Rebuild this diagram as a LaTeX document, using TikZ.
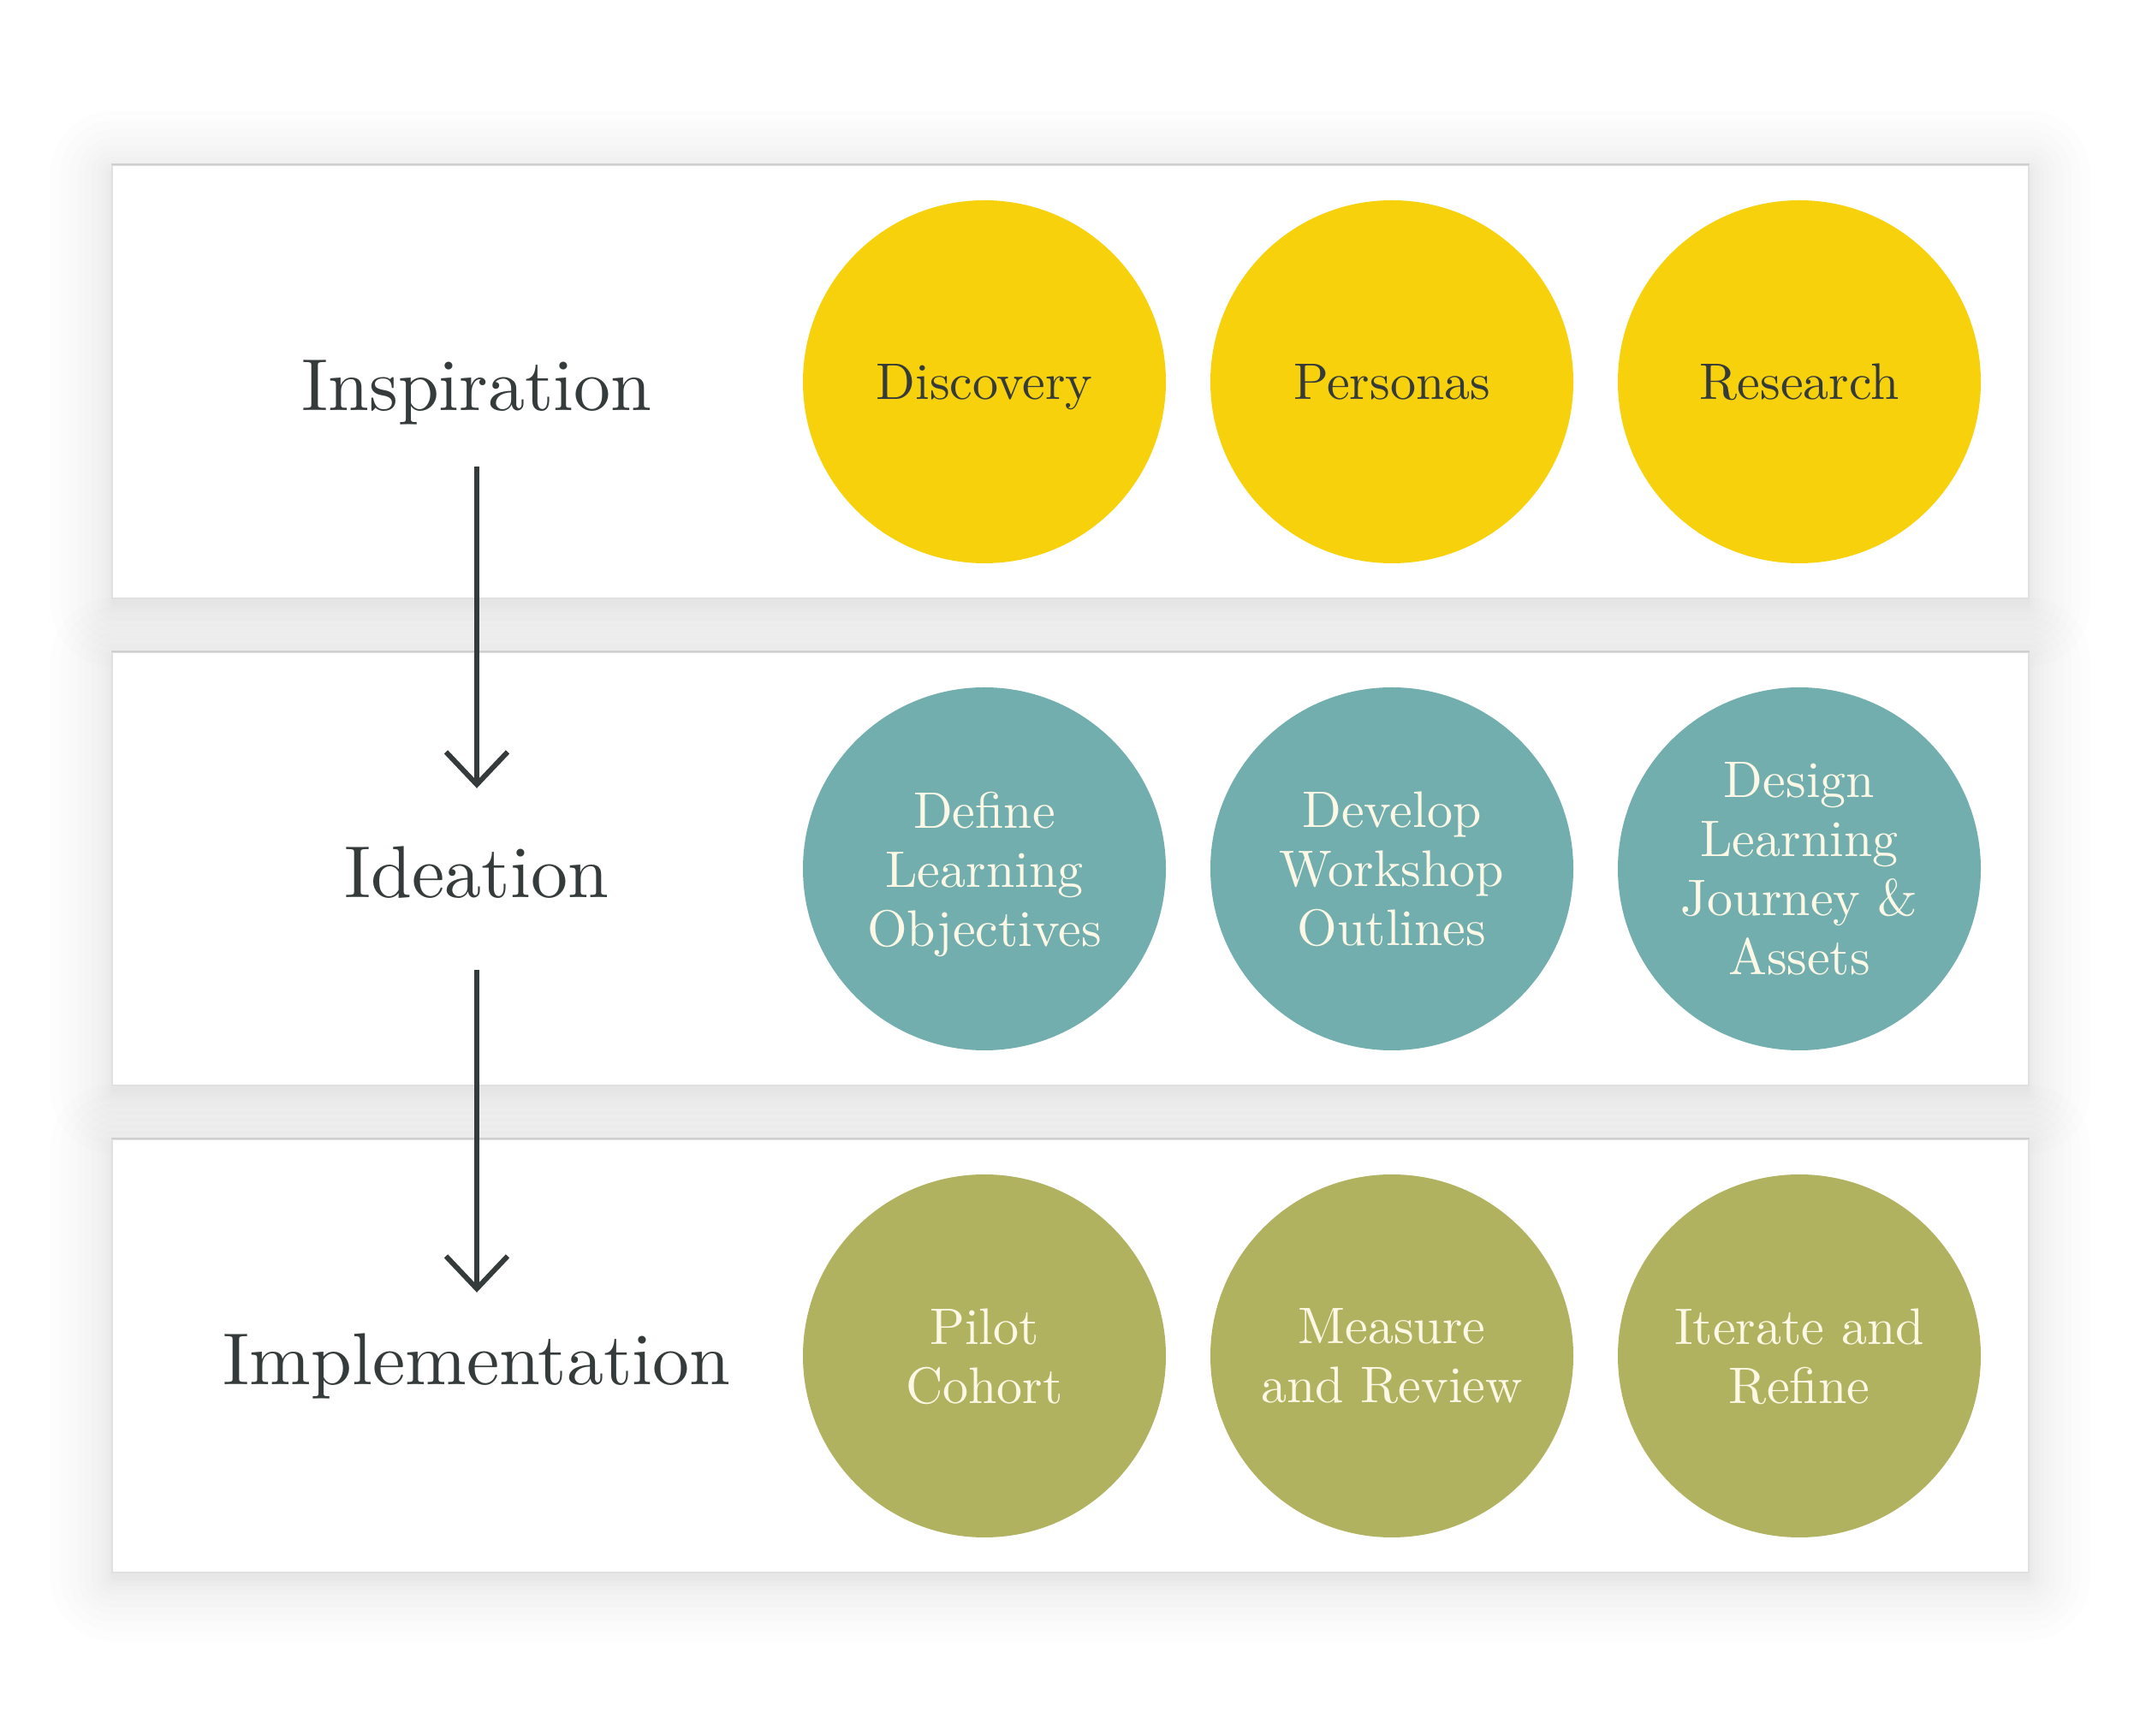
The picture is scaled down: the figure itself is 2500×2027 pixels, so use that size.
\documentclass[tikz,border=0pt]{standalone}
\usepackage{fontspec}
\setmainfont{lmroman10-regular.otf}
\usetikzlibrary{arrows.meta}

\definecolor{inkgrey}{HTML}{353B3B}
\definecolor{cream}{HTML}{FDF8E6}
\definecolor{sunyellow}{HTML}{F7D10C}
\definecolor{seateal}{HTML}{71AEAD}
\definecolor{olivegreen}{HTML}{B0B260}
\definecolor{edgegrey}{HTML}{E0E0E0}
\definecolor{topgrey}{HTML}{CFCFCF}

\begin{document}
\begin{tikzpicture}[x=1pt,y=1pt]
    \tikzset{
        panel/.style={
            rectangle, fill=white, draw=edgegrey, line width=1.5pt,
            minimum width=2239pt, minimum height=506pt, inner sep=0pt
        },
        phase/.style={
            anchor=base, text=inkgrey, inner sep=0pt,
            text height=60pt, text depth=17pt,
            font=\fontsize{86}{100}\selectfont
        },
        stepcircle/.style={
            circle, fill=#1, minimum size=424pt, inner sep=0pt,
            align=center, text depth=-10pt,
            font=\fontsize{60}{69}\selectfont
        },
        flow/.style={
            draw=inkgrey, line width=6pt,
            -{Straight Barb[length=38pt,width=72pt,sharp]}
        }
    }

    \fill[white] (0,0) rectangle (2500,2027);
    \useasboundingbox (0,0) rectangle (2500,2027);

    \coordinate (l1) at (557,1581);
    \coordinate (l2) at ([yshift=-569pt] l1);
    \coordinate (l3) at ([yshift=-569pt] l2);

    \foreach \row in {l1,l2,l3} {
        \foreach \s in {1,...,12} {
            \fill[black, opacity=0.006, rounded corners=\s*\s*0.5pt+2pt]
                ([shift={(-426-\s*\s*0.5,-261-\s*\s*0.5)}] \row) rectangle
                ([shift={(1813+\s*\s*0.5,245+\s*\s*0.5)}] \row);
        }
    }

    \node[panel] (p1) at ([xshift=693.5pt] l1) {};
    \node[panel] (p2) at ([xshift=693.5pt] l2) {};
    \node[panel] (p3) at ([xshift=693.5pt] l3) {};
    \draw[topgrey, line width=2pt] (p1.north west) -- (p1.north east);
    \draw[topgrey, line width=2pt] (p2.north west) -- (p2.north east);
    \draw[topgrey, line width=2pt] (p3.north west) -- (p3.north east);

    \node[phase] (insp) at ([yshift=-34pt] l1) {Inspiration};
    \node[phase] (idea) at ([yshift=-34pt] l2) {Ideation};
    \node[phase] (impl) at ([yshift=-34pt] l3) {Implementation};

    \node[stepcircle=sunyellow, text=inkgrey] (disc) at ([xshift=593pt] l1) {Discovery};
    \node[stepcircle=sunyellow, text=inkgrey] (pers) at ([xshift=476pt] disc) {Personas};
    \node[stepcircle=sunyellow, text=inkgrey] (rsch) at ([xshift=476pt] pers) {Research};

    \node[stepcircle=seateal, text=cream] (defl) at ([xshift=593pt] l2) {Define\\Learning\\Objectives};
    \node[stepcircle=seateal, text=cream] (devw) at ([xshift=476pt] defl) {Develop\\Workshop\\Outlines};
    \node[stepcircle=seateal, text=cream] (desl) at ([xshift=476pt] devw) {Design\\Learning\\Journey \&\\Assets};

    \node[stepcircle=olivegreen, text=cream] (pilo) at ([xshift=593pt] l3) {Pilot\\Cohort};
    \node[stepcircle=olivegreen, text=cream] (meas) at ([xshift=476pt] pilo) {Measure\\and Review};
    \node[stepcircle=olivegreen, text=cream] (iter) at ([xshift=476pt] meas) {Iterate and\\Refine};

    \draw[flow, shorten <=48pt, shorten >=68pt] (insp) -- (idea);
    \draw[flow, shorten <=67pt, shorten >=48pt] (idea) -- (impl);
\end{tikzpicture}
\end{document}
